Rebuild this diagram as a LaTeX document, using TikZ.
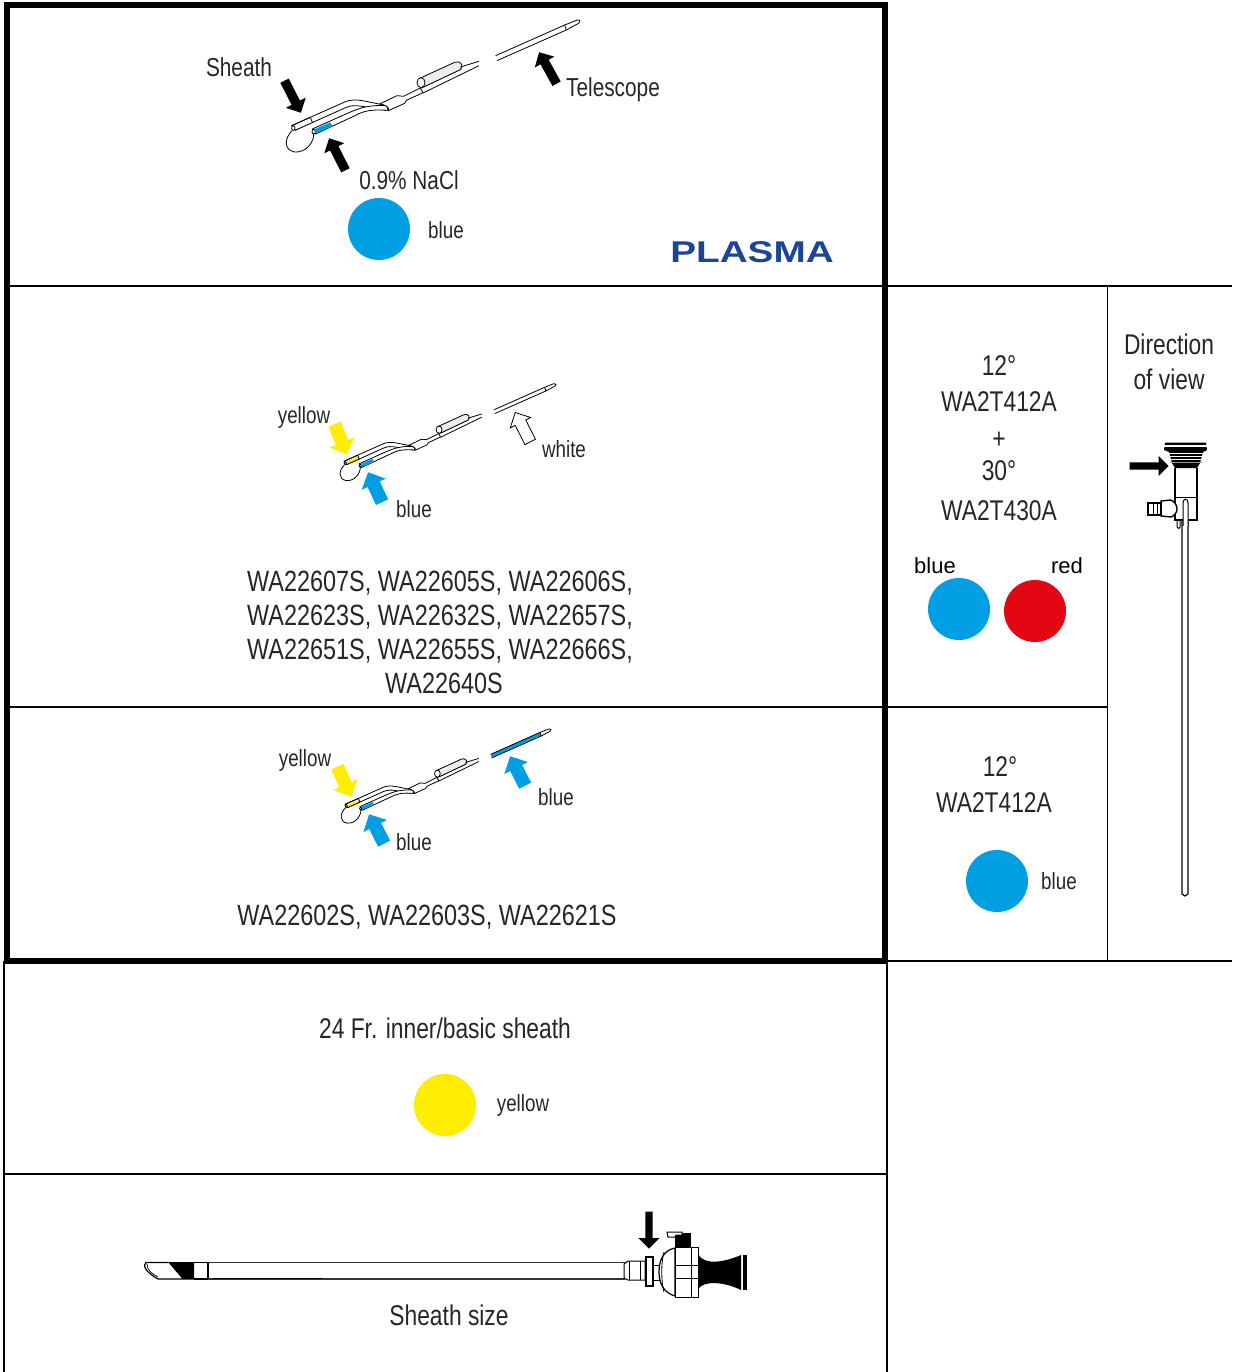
\documentclass[tikz,border=0pt]{standalone}
\usepackage{fontspec}
\setmainfont[FakeStretch=0.8]{Liberation Sans}
\newfontfamily\widefont{Liberation Sans}
\newfontfamily\logofont[FakeStretch=1.29]{Liberation Sans}
\usetikzlibrary{calc,shapes.arrows}

\definecolor{colblue}{HTML}{009FE3}
\definecolor{colred}{HTML}{E30613}
\definecolor{colyellow}{HTML}{FFED00}
\definecolor{colplasma}{HTML}{1D4596}
\definecolor{colhandle}{HTML}{EDEDED}

% tip drawing: position, scale, sheath colour, telescope colour
\newcommand{\sheathtip}[4]{
\begin{scope}[shift={#1}, scale=#2, shift={(-310,-355)}, line width=.8pt, line join=round]
    \draw (308,362) .. controls (285,385) and (280,420) .. (315,427) .. controls (350,430) and (375,395) .. (372,370);
    % upper tube
    \draw[fill=white] (306,348) -- (465,277) .. controls (500,262) and (530,278) .. (592,287) -- (590,302) .. controls (530,296) and (500,280) .. (470,293) -- (316,362) -- cycle;
    \draw[fill=#3, draw=none] (316,350) -- (362,330) -- (368,342) -- (320,361) -- cycle;
    \draw (306,348) -- (362,323) (316,362) -- (370,338) (362,323) -- (368,338);
    \draw[fill=white] (311,355) ellipse (5 and 7);
    % lower tube
    \draw[fill=white] (368,358) -- (480,308) .. controls (510,295) and (540,285) .. (590,288) -- (596,302) .. controls (545,298) and (520,305) .. (500,316) -- (378,373) -- cycle;
    \fill[colblue] (376,358) -- (422,338) -- (428,350) -- (380,370) -- cycle;
    \draw[fill=white] (372,366) ellipse (5 and 7);
    % hub and shaft
    \draw[fill=white] (570,283) -- (622,258) -- (642,260) -- (692,235) -- (700,249) -- (650,272) -- (645,281) -- (596,303) .. controls (600,295) and (590,285) .. (570,283) -- cycle;
    \draw (700,250) -- (868,168) (692,236) -- (815,178);
    % handle
    \draw[fill=colhandle] (690,206) -- (795,158) .. controls (812,150) and (825,170) .. (812,180) -- (702,232) -- cycle;
    \draw[fill=white] (694,219) ellipse (12 and 15);
    \draw (812,172) -- (868,155);
    % telescope
    \draw[#4, line width={14*#2 pt}] (920,145) -- (1125,53);
    \draw (918,138) -- (1125,46) (922,153) -- (1130,61);
    \draw[fill=white] (1125,46) -- (1163,31) .. controls (1172,29) and (1174,38) .. (1167,41) -- (1130,61) -- cycle;
\end{scope}
}

\begin{document}
\begin{tikzpicture}[
    x=1pt, y=-1pt,
    big text/.style={font=\fontsize{26}{30}\selectfont, text=black!85, text height=18.7pt, text depth=0pt, inner sep=0pt},
    large text/.style={font=\fontsize{28.5}{32}\selectfont, text=black!85, text height=20.5pt, text depth=0pt, inner sep=0pt},
    list text/.style={font=\fontsize{29.3}{32}\selectfont, text=black!85, text height=21pt, text depth=0pt, inner sep=0pt},
    small text/.style={font=\fontsize{23.5}{28}\selectfont, text=black!85, text height=17pt, text depth=0pt, inner sep=0pt},
    wide text/.style={font=\widefont\fontsize{22}{26}\selectfont, text height=16pt, text depth=0pt, inner sep=0pt},
    colour dot/.style={circle, inner sep=0pt, minimum size=62pt},
    black arrow/.style={single arrow, fill=black, inner sep=4.5pt, minimum height=36pt, minimum width=22pt, single arrow head extend=6.5pt, single arrow head indent=0pt, anchor=tip},
    colour arrow/.style={single arrow, inner sep=6.5pt, minimum height=33pt, minimum width=26pt, single arrow head extend=6.5pt, single arrow head indent=0pt, anchor=tip}
]

% SAME BOUNDING BOX
\path[use as bounding box] (0,0) rectangle (1232,1372);

% FRAMES
\draw[line width=1.3pt] (7,286) -- (1232,286);
\draw[line width=1.3pt] (7,707) -- (1107,707);
\draw[line width=1.3pt] (1107.5,286) -- (1107.5,961);
\draw[line width=1.3pt] (887,961) -- (1232,961);
\draw[line width=1.3pt] (887,286) -- (887,1372);
\draw[line width=1.3pt] (4,961) -- (4,1372);
\draw[line width=1.3pt] (4,1174) -- (887,1174);
\draw[line width=5.5pt] (7,5) rectangle (885,961);

% TOP ROW
\sheathtip{(293,128)}{.3333}{white}{white}
\node[big text] (sheathlabel) at (239,67) {Sheath};
\node[big text] (telescopelabel) at (613,87) {Telescope};
\node[big text] (nacllabel) at (409,180) {0.9\% NaCl};
\node[small text] (bluetop) at (446,230) {blue};
\node[colour dot, fill=colblue] (dottop) at (379,229) {};
\node[black arrow, rotate=-63] (sheatharrow) at (301,113) {};
\node[black arrow, rotate=119] (telescopearrow) at (539,52) {};
\node[black arrow, rotate=117] (naclarrow) at (329,138) {};
\node[font=\logofont\bfseries\fontsize{30}{30}\selectfont, text=colplasma, inner sep=0pt] (plasmalabel) at (752,252) {PLASMA};

% SECOND ROW
\sheathtip{(345,463)}{.245}{colyellow}{white}
\node[small text] (yellowmid) at (304,415) {yellow};
\node[small text] (whitemid) at (564,449) {white};
\node[small text] (bluemid) at (414,509) {blue};
\node[colour arrow, fill=colyellow, rotate=-68] (yellowarrowmid) at (347,455) {};
\node[colour arrow, fill=colblue, rotate=115] (bluearrowmid) at (368,472) {};
\node[colour arrow, fill=white, draw=black, line width=.8pt, inner sep=5.5pt, minimum width=22pt, single arrow head extend=5.5pt, rotate=117] (whitearrowmid) at (515,412) {};
\node[list text] (listaa) at (440,581) {WA22607S, WA22605S, WA22606S,};
\node[list text] (listab) at (440,615) {WA22623S, WA22632S, WA22657S,};
\node[list text] (listac) at (440,649) {WA22651S, WA22655S, WA22666S,};
\node[list text] (listad) at (444,683) {WA22640S};

% THIRD ROW
\sheathtip{(346,806)}{.238}{colyellow}{colblue}
\node[small text] (yellowlow) at (305,758) {yellow};
\node[small text] (bluelowa) at (556,797) {blue};
\node[small text] (bluelowb) at (414,842) {blue};
\node[colour arrow, fill=colyellow, rotate=-66] (yellowarrowlow) at (351,797) {};
\node[colour arrow, fill=colblue, rotate=117] (bluearrowlowa) at (369,814) {};
\node[colour arrow, fill=colblue, rotate=117] (bluearrowlowb) at (510,756) {};
\node[list text] (listba) at (427,915) {WA22602S, WA22603S, WA22621S};

% ANGLE COLUMN
\node[large text] (angleaa) at (999,365) {12°};
\node[large text] (angleab) at (999,401) {WA2T412A};
\node[large text] (angleac) at (999,438) {+};
\node[large text] (anglead) at (999,470) {30°};
\node[large text] (angleae) at (999,510) {WA2T430A};
\node[wide text] (bluecol) at (935,565) {blue};
\node[wide text] (redcol) at (1067,565) {red};
\node[colour dot, fill=colblue] (dotcola) at (959,609) {};
\node[colour dot, fill=colred] (dotcolb) at (1035,611) {};
\node[large text] (angleba) at (1000,766) {12°};
\node[large text] (anglebb) at (994,802) {WA2T412A};
\node[colour dot, fill=colblue] (dotcolc) at (997,881) {};
\node[small text] (bluecolb) at (1059,881) {blue};

% DIRECTION OF VIEW
\node[large text] (dirlabela) at (1169,344) {Direction};
\node[large text] (dirlabelb) at (1169,379) {of view};
\draw[fill=white, line width=1.2pt] (1182,520) -- (1182,894) -- (1185,896) -- (1188,894) -- (1188,520);
\draw[line width=1.2pt] (1175,468) -- (1175,520) -- (1197,520) -- (1197,468);
\draw[line width=1pt] (1175,497) -- (1197,497);
\draw[fill=white, line width=1.4pt] (1161,501) -- (1171,500) .. controls (1179,504) and (1179,514) .. (1171,517) -- (1161,516) -- cycle;
\draw[fill=white, line width=1.4pt] (1148,503) rectangle (1161,515);
\draw[line width=1pt] (1153,503) -- (1153,515) (1157,503) -- (1157,515);
\draw[fill=white, line width=1pt] (1183,526) -- (1183,503) .. controls (1183,498) and (1188,498) .. (1188,503) -- (1188,526);
\draw[line width=1pt] (1177,520) -- (1177,527) .. controls (1178,529) and (1180,529) .. (1180,527) -- (1180,520);
\fill (1165,442.5) -- (1206,442.5) -- (1207,450) -- (1203,452) -- (1200,463) -- (1197,468) -- (1175,468) -- (1172,463) -- (1169,452) -- (1164,450) -- cycle;
\draw[white, line width=1.3pt] (1163,446) -- (1208,446);
\draw[white, line width=.7pt] (1168,453) -- (1204,453) (1168,456) -- (1204,456) (1168,459) -- (1204,459);
\draw[white!60!black, line width=.9pt] (1170,462) -- (1202,462);
\node[black arrow, inner sep=3.5pt, minimum height=39pt, minimum width=20pt, single arrow head extend=6.5pt] (dirarrow) at (1169,466) {};

% YELLOW ROW
\node[large text] (innerlabel) at (445,1028) {24 Fr. inner/basic sheath};
\node[colour dot, fill=colyellow] (dotinner) at (445,1105) {};
\node[small text] (yellowinner) at (523,1103) {yellow};

% SHEATH SIZE ROW
\draw[line width=1.2pt] (168,1262.5) -- (146,1262.5) .. controls (143,1265) and (144,1271) .. (158,1279) -- (183,1279);
\draw[line width=.7pt] (147,1264) .. controls (147,1270) and (152,1274) .. (158,1277);
\fill (168,1262) -- (194,1262) -- (194,1279.5) -- (183,1279.5) -- cycle;
\draw[line width=1.2pt] (194,1262.5) -- (208,1262.5) -- (208,1279) -- (194,1279);
\draw[line width=1.2pt, black!80] (208,1262.5) -- (625,1262.5) (208,1279) -- (625,1279);
\draw[line width=1.6pt] (213,1278.5) -- (322,1278.5);
\draw[fill=white, line width=1pt] (624,1264) -- (628,1261) -- (645,1261) -- (645,1280) -- (628,1280) -- (624,1278) -- cycle;
\draw[line width=.8pt] (629,1261) -- (629,1280) (640,1261) -- (640,1280);
\draw[fill=white, line width=1.2pt] (646,1257) rectangle (653,1286);
\draw[line width=1pt] (653,1265) rectangle (660,1280);
\draw[fill=white, line width=1.2pt] (675,1248) .. controls (665,1250) and (659,1258) .. (659,1272) .. controls (659,1285) and (665,1293) .. (675,1296) -- cycle;
\draw[line width=.8pt] (664,1252) .. controls (661,1262) and (661,1282) .. (664,1292);
\fill (675,1233) rectangle (691,1248);
\draw[fill=white, line width=1pt] (667,1232) -- (682,1232) -- (682,1235) -- (676,1235) -- (675,1237) -- (668,1237) -- cycle;
\fill (698,1254) .. controls (704,1266) and (725,1262) .. (741,1255) -- (741,1290) .. controls (725,1282) and (704,1280) .. (698,1289) -- cycle;
\draw[fill=white, line width=1pt] (675,1247) -- (698,1247) -- (698,1297) -- (675,1297) -- cycle;
\draw[line width=1pt] (675,1265) -- (698,1265) (675,1278) -- (698,1278) (691,1247) -- (691,1297);
\fill (743,1255) rectangle (747,1290);
\node[black arrow, rotate=-90, inner sep=3.5pt, minimum height=37pt, minimum width=21pt, single arrow head extend=7pt] (sizearrow) at (649,1249) {};
\node[large text] (sizelabel) at (449,1315) {Sheath size};

\end{tikzpicture}
\end{document}
